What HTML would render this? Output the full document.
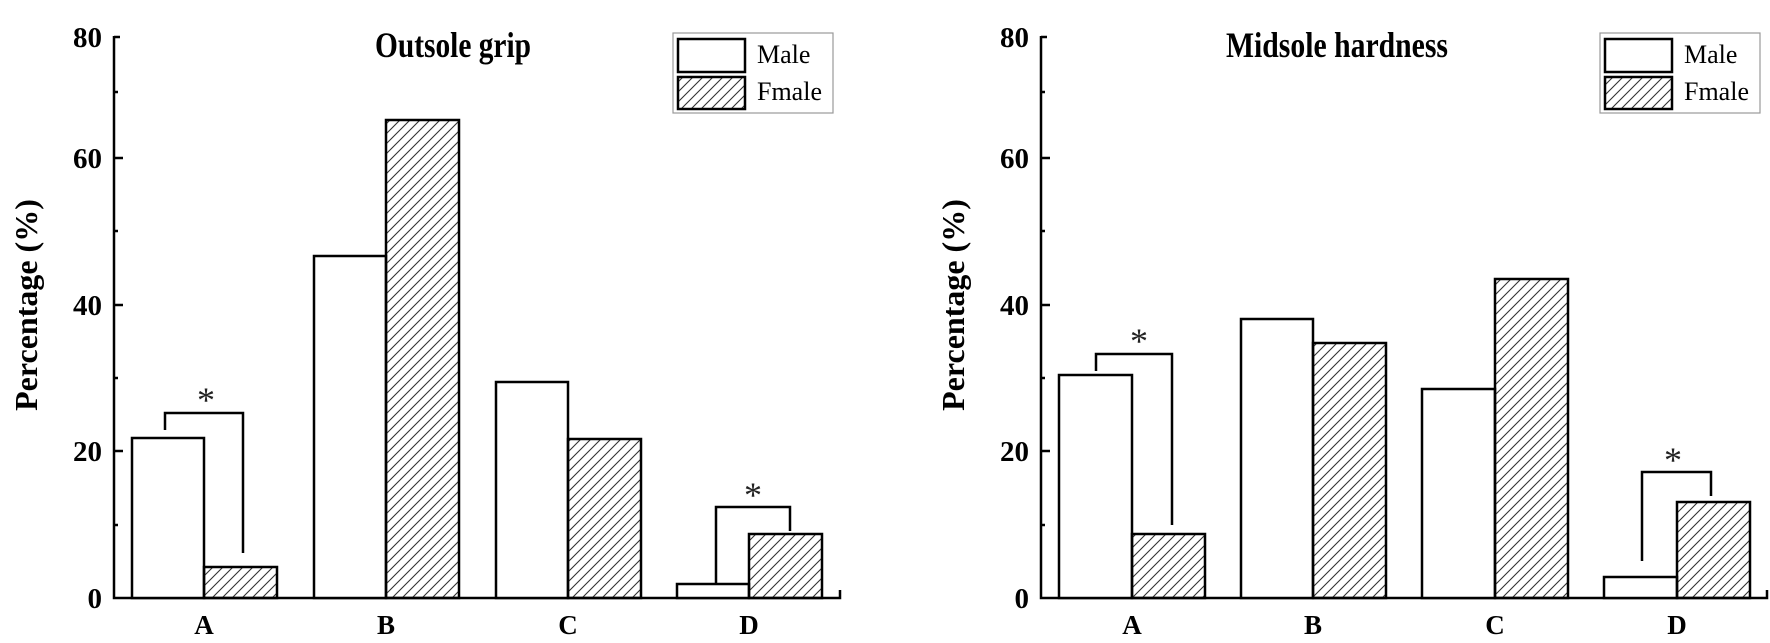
<!DOCTYPE html>
<html><head><meta charset="utf-8"><style>
html,body{margin:0;padding:0;background:#fff;}
svg{display:block;font-family:"Liberation Serif",serif;}
</style></head><body>
<svg width="1770" height="643" viewBox="0 0 1770 643" xmlns="http://www.w3.org/2000/svg">
<defs>
<pattern id="h" patternUnits="userSpaceOnUse" width="10" height="10">
<path d="M-1,11 L11,-1 M-2,2 L2,-2 M8,12 L12,8" stroke="#333" stroke-width="1.1"/>
</pattern>
</defs>
<g id="p1" fill="none" stroke="#000" stroke-width="2.5">
<path d="M114,36 V598 H840 V590"/>
<path d="M114,37 h6 M114,92 h4 M114,158 h9 M114,231 h4 M114,305 h9 M114,378 h4 M114,451 h9 M114,525 h4"/>
<rect x="132" y="438" width="72" height="160" fill="#fff"/>
<rect x="204" y="567" width="73" height="31" fill="url(#h)"/>
<rect x="314" y="256" width="72" height="342" fill="#fff"/>
<rect x="386" y="120" width="73" height="478" fill="url(#h)"/>
<rect x="496" y="382" width="72" height="216" fill="#fff"/>
<rect x="568" y="439" width="73" height="159" fill="url(#h)"/>
<rect x="677" y="584" width="72" height="14" fill="#fff"/>
<rect x="749" y="534" width="73" height="64" fill="url(#h)"/>
<path d="M165,430 V413 H243 V553"/>
<path d="M716,583 V507 H790 V531"/>
<rect x="673" y="33" width="160" height="80" stroke="#999" stroke-width="1.2"/>
<rect x="678" y="39" width="67" height="33" fill="#fff"/>
<rect x="678" y="77" width="67" height="32" fill="url(#h)"/>
</g>
<g id="p2" fill="none" stroke="#000" stroke-width="2.5">
<path d="M1041,36 V598 H1767 V590"/>
<path d="M1041,37 h6 M1041,92 h4 M1041,158 h9 M1041,231 h4 M1041,305 h9 M1041,378 h4 M1041,451 h9 M1041,525 h4"/>
<rect x="1059" y="375" width="73" height="223" fill="#fff"/>
<rect x="1132" y="534" width="73" height="64" fill="url(#h)"/>
<rect x="1241" y="319" width="72" height="279" fill="#fff"/>
<rect x="1313" y="343" width="73" height="255" fill="url(#h)"/>
<rect x="1422" y="389" width="73" height="209" fill="#fff"/>
<rect x="1495" y="279" width="73" height="319" fill="url(#h)"/>
<rect x="1604" y="577" width="73" height="21" fill="#fff"/>
<rect x="1677" y="502" width="73" height="96" fill="url(#h)"/>
<path d="M1096,371 V354 H1172 V525"/>
<path d="M1642,561 V472 H1711 V496"/>
<rect x="1600" y="33" width="160" height="80" stroke="#999" stroke-width="1.2"/>
<rect x="1605" y="39" width="67" height="33" fill="#fff"/>
<rect x="1605" y="77" width="67" height="32" fill="url(#h)"/>
</g>
<g font-weight="bold" font-size="29" text-anchor="end" fill="#000">
<text x="102" y="47">80</text><text x="102" y="168">60</text><text x="102" y="315">40</text><text x="102" y="461">20</text><text x="102" y="608">0</text>
<text x="1029" y="47">80</text><text x="1029" y="168">60</text><text x="1029" y="315">40</text><text x="1029" y="461">20</text><text x="1029" y="608">0</text>
</g>
<g font-weight="bold" font-size="27" text-anchor="middle" fill="#000">
<text x="204" y="634">A</text><text x="386" y="634">B</text><text x="568" y="634">C</text><text x="749" y="634">D</text>
<text x="1132" y="634">A</text><text x="1313" y="634">B</text><text x="1495" y="634">C</text><text x="1677" y="634">D</text>
</g>
<g font-weight="bold" font-size="32" text-anchor="middle" fill="#000">
<text transform="translate(37,305) rotate(-90)">Percentage (%)</text>
<text transform="translate(964,305) rotate(-90)">Percentage (%)</text>
</g>
<g font-weight="bold" font-size="36" fill="#000">
<text x="375" y="57" textLength="156" lengthAdjust="spacingAndGlyphs">Outsole grip</text>
<text x="1226" y="57" textLength="222" lengthAdjust="spacingAndGlyphs">Midsole hardness</text>
</g>
<g font-size="26" fill="#000">
<text x="757" y="63">Male</text><text x="757" y="100">Fmale</text>
<text x="1684" y="63">Male</text><text x="1684" y="100">Fmale</text>
</g>
<g font-size="36" text-anchor="middle" fill="#222">
<text x="206" y="412">*</text><text x="753" y="507">*</text>
<text x="1139" y="353">*</text><text x="1673" y="472">*</text>
</g>
</svg>
</body></html>
